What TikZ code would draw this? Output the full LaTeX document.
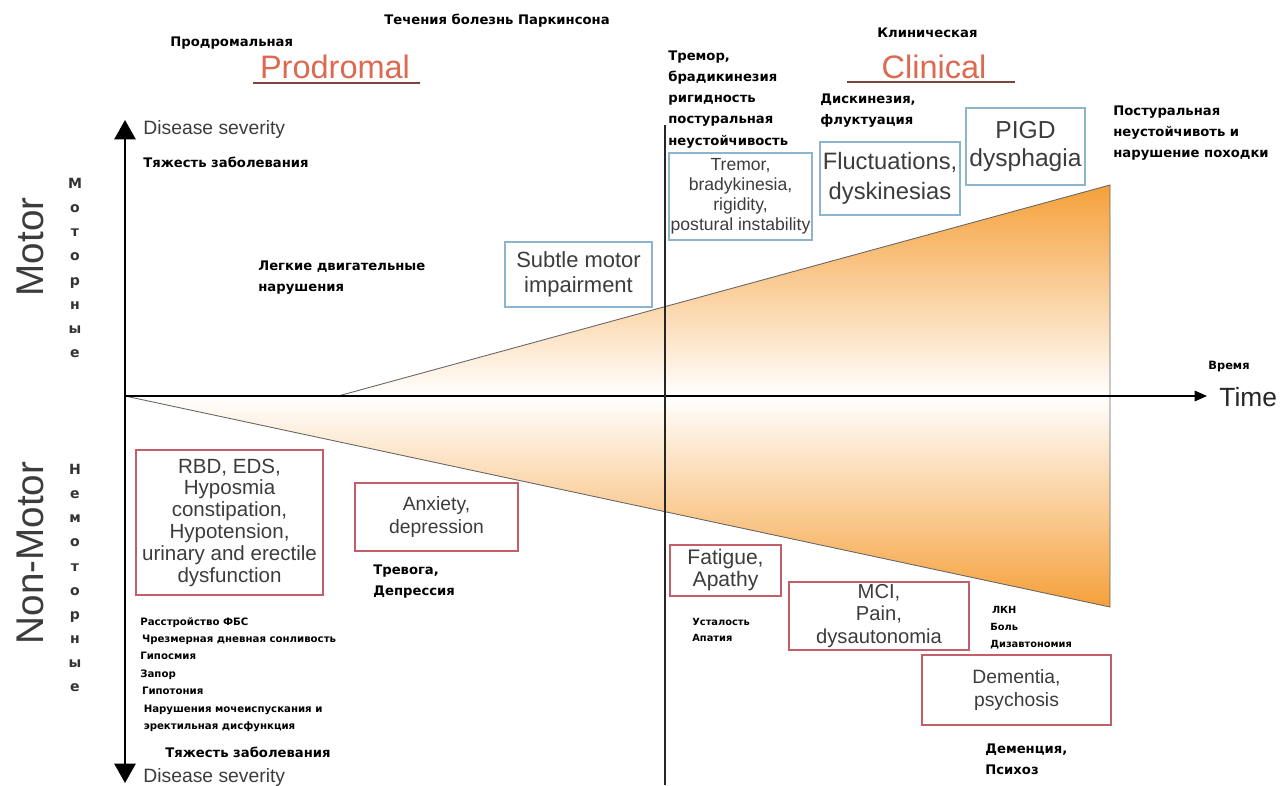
\documentclass[tikz,border=0pt]{standalone}
\usepackage{fontspec}
\setmainfont{Liberation Sans}
\newfontfamily\rufont{DejaVu Sans}
\usepackage{xcolor}
\usetikzlibrary{arrows.meta}

\definecolor{boxblue}{RGB}{140,180,205}
\definecolor{boxred}{RGB}{195,95,105}
\definecolor{txtgray}{RGB}{60,60,60}
\definecolor{headred}{RGB}{220,105,80}
\definecolor{ulred}{RGB}{125,70,60}
\definecolor{orng}{RGB}{245,160,58}

\begin{document}
\begin{tikzpicture}[x=0.02cm, y=-0.02cm,
    ru/.style={font=\rufont\bfseries\fontsize{7.5}{12}\selectfont, align=left, anchor=west, inner sep=0pt},
    rusm/.style={ru, font=\rufont\bfseries\fontsize{5.8}{9.9}\selectfont},
    blubox/.style 2 args={draw=boxblue, line width=0.9pt, minimum width=#1*0.02cm, minimum height=#2*0.02cm, text=txtgray, align=center, inner sep=0pt},
    redbox/.style 2 args={blubox={#1}{#2}, draw=boxred},
    head/.style={text=headred, font=\fontsize{18.5}{20}\selectfont, inner sep=0pt},
    side/.style={text=txtgray, rotate=90, font=\fontsize{22}{24}\selectfont, inner sep=0pt},
    vlet/.style={font=\rufont\bfseries\fontsize{8}{13.7}\selectfont, align=center, text=black!80, inner sep=0pt},
    edge/.style={draw=black!60, line width=0.5pt}]
    \useasboundingbox (0,0) rectangle (1280,785);

    % axes and stage points
    \coordinate (O) at (125,396);
    \coordinate (ytop) at (125,120);
    \coordinate (ybot) at (125,783);
    \coordinate (xend) at (1207,396);
    \coordinate (U0) at (338,396);
    \coordinate (U1) at (1110,185);
    \coordinate (R0) at (1110,396);
    \coordinate (L1) at (1110,607);
    \coordinate (T1) at (665,125);
    \coordinate (T2) at (665,785);

    % severity wedges
    \shade[top color=orng, bottom color=white] (U0) -- (U1) -- (R0) -- cycle;
    \shade[top color=white, bottom color=orng] (O) -- (R0) -- (L1) -- cycle;
    \draw[edge] (U0) -- (U1) -- (L1) -- (O);

    \draw[line width=0.8pt, -{Triangle[width=6pt,length=7pt]}] (O) -- (xend);
    \draw[line width=1.4pt, {Triangle[width=12pt,length=11pt]}-{Triangle[width=12pt,length=11pt]}] (ybot) -- (ytop);
    \draw[line width=1.4pt, black!85] (T1) -- (T2);

    % headings
    \node[ru, anchor=center] (title) at (497,21) {Течения болезнь Паркинсона};
    \node[ru] (prodru) at (170,43) {Продромальная};
    \node[head] (prod) at (335,67) {Prodromal};
    \coordinate (pu1) at (253,83);
    \coordinate (pu2) at (420,83);
    \draw[ulred, line width=1pt] (pu1) -- (pu2);
    \node[ru] (clinru) at (877,33) {Клиническая};
    \node[head] (clin) at (934,67) {Clinical};
    \coordinate (cu1) at (847,82);
    \coordinate (cu2) at (1015,82);
    \draw[ulred, line width=1pt] (cu1) -- (cu2);

    % axis labels
    \node[anchor=west, text=txtgray, font=\fontsize{11}{12}\selectfont, inner sep=0pt] (sevup) at (143,129) {Disease severity};
    \node[ru] (tyaz1) at (143,162) {Тяжесть заболевания};
    \node[anchor=west, text=txtgray, font=\fontsize{11}{12}\selectfont, inner sep=0pt] (sevdn) at (143,777) {Disease severity};
    \node[ru] (tyaz2) at (165,752) {Тяжесть заболевания};
    \node[ru, font=\rufont\bfseries\fontsize{6.5}{8}\selectfont] (vremya) at (1208,367) {Время};
    \node[anchor=west, text=black!85, font=\fontsize{15}{16}\selectfont, inner sep=0pt] (time) at (1219,397) {Time};

    \node[side] (motor) at (30,247) {Motor};
    \node[side] (nonmotor) at (30,553) {Non-Motor};
    \node[vlet] (motru) at (75,268) {М\\о\\т\\о\\р\\н\\ы\\е};
    \node[vlet] (nonmotru) at (75,578) {Н\\е\\м\\о\\т\\о\\р\\н\\ы\\е};

    % motor boxes
    \node[blubox={147}{65}, font=\fontsize{12.5}{14}\selectfont] (subtle) at (578.5,274.5) {Subtle motor\\impairment};
    \node[blubox={143}{87}, font=\fontsize{10}{11.3}\selectfont] (tremor) at (740.5,196.5) {Tremor,\\bradykinesia,\\rigidity,\\postural instability};
    \node[blubox={140}{73}, font=\fontsize{13.5}{17}\selectfont] (fluct) at (890,178.5) {Fluctuations,\\dyskinesias};
    \node[blubox={119}{77}, font=\fontsize{14}{15.5}\selectfont] (pigd) at (1025.5,146.5) {PIGD\\dysphagia};

    \node[ru] (legk) at (258,278) {Легкие двигательные\\нарушения};
    \node[ru] (tremru) at (668,99.5) {Тремор,\\брадикинезия\\ригидность\\постуральная\\неустойчивость};
    \node[ru] (diskru) at (820,111) {Дискинезия,\\флуктуация};
    \node[ru] (postru) at (1113,133.5) {Постуральная\\неустойчивоть и\\нарушение походки};

    % non-motor boxes
    \node[redbox={187}{145}, font=\fontsize{11.7}{12.4}\selectfont] (rbd) at (229.5,522.5) {RBD, EDS,\\Hyposmia\\constipation,\\Hypotension,\\urinary and erectile\\dysfunction};
    \node[redbox={163}{68}, font=\fontsize{11}{13.6}\selectfont] (anx) at (436.5,517) {Anxiety,\\depression};
    \node[redbox={111}{51}, font=\fontsize{12}{12.5}\selectfont] (fat) at (725.5,570.5) {Fatigue,\\Apathy};
    \node[redbox={180}{68}, font=\fontsize{11.5}{12.8}\selectfont] (mci) at (879,616) {MCI,\\Pain,\\dysautonomia};
    \node[redbox={189}{70}, font=\fontsize{11}{13.6}\selectfont] (dem) at (1016.5,690) {Dementia,\\psychosis};

    \node[rusm] (rbdru) at (140,674.5) {Расстройство ФБС\\\,Чрезмерная дневная сонливость\\Гипосмия\\Запор\\\,Гипотония\\\,\,Нарушения мочеиспускания и\\\,\,эректильная дисфункция};
    \node[ru] (anxru) at (373,581.5) {Тревога,\\Депрессия};
    \node[rusm, font=\rufont\bfseries\fontsize{5.6}{9}\selectfont] (fatru) at (692,630) {Усталость\\Апатия};
    \node[rusm, font=\rufont\bfseries\fontsize{5.6}{9.6}\selectfont] (mciru) at (990,628) {\,ЛКН\\Боль\\Дизавтономия};
    \node[ru] (demru) at (985,759) {Деменция,\\Психоз};
\end{tikzpicture}
\end{document}
